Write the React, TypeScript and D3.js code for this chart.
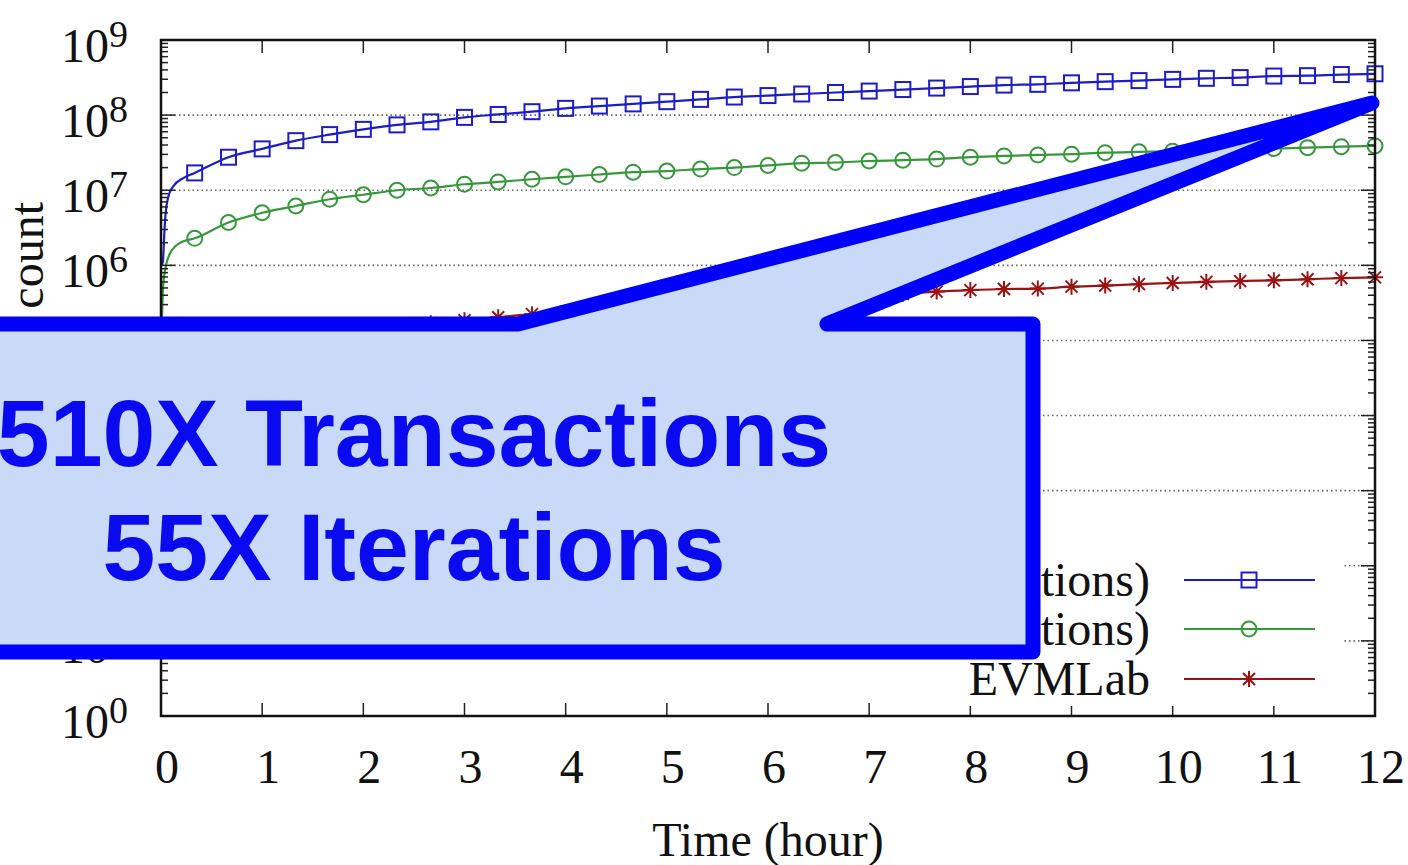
import React from "react";
import * as d3 from "d3";

// Sampling times (hours) of the plotted markers
const times = [
  0.333, 0.667, 1, 1.333, 1.667, 2, 2.333, 2.667, 3, 3.333, 3.667, 4,
  4.333, 4.667, 5, 5.333, 5.667, 6, 6.333, 6.667, 7, 7.333, 7.667, 8,
  8.333, 8.667, 9, 9.333, 9.667, 10, 10.333, 10.667, 11, 11.333, 11.667, 12,
];

// Start-up segment (line only, no markers)
const txStartTimes = [0.01, 0.02, 0.033, 0.046, 0.072, 0.12, 0.22];
const txStartValues = [1.0e6, 1.17e6, 2.7e6, 5.0e6, 8.1e6, 1.12e7, 1.45e7];
const itStartTimes = [0.005, 0.02, 0.046, 0.09, 0.19];
const itStartValues = [1.0e5, 5.0e5, 9.5e5, 1.45e6, 2.0e6];
const evmStartTimes = [0.005, 0.1, 0.2];
const evmStartValues = [2.0e3, 8.0e3, 1.4e4];

const transactions = [
  1.7e7, 2.75e7, 3.55e7, 4.57e7, 5.5e7, 6.46e7, 7.41e7, 8.13e7, 9.33e7, 1.02e8,
  1.11e8, 1.23e8, 1.32e8, 1.41e8, 1.51e8, 1.62e8, 1.74e8, 1.82e8, 1.91e8, 2.0e8,
  2.09e8, 2.19e8, 2.29e8, 2.4e8, 2.51e8, 2.57e8, 2.69e8, 2.79e8, 2.88e8, 2.99e8,
  3.09e8, 3.16e8, 3.31e8, 3.35e8, 3.47e8, 3.55e8,
];
const iterations = [
  2.29e6, 3.72e6, 5.01e6, 6.17e6, 7.59e6, 8.71e6, 1.0e7, 1.07e7, 1.2e7, 1.29e7,
  1.4e7, 1.51e7, 1.62e7, 1.74e7, 1.8e7, 1.91e7, 2.0e7, 2.14e7, 2.29e7, 2.34e7,
  2.45e7, 2.51e7, 2.6e7, 2.75e7, 2.86e7, 2.95e7, 3.02e7, 3.16e7, 3.24e7, 3.31e7,
  3.39e7, 3.51e7, 3.59e7, 3.69e7, 3.8e7, 3.89e7,
];
const evmlab = [
  2.0e4, 4.0e4, 6.3e4, 8.9e4, 1.12e5, 1.32e5, 1.51e5, 1.7e5, 1.86e5, 2.04e5,
  2.24e5, 2.4e5, 2.57e5, 2.69e5, 2.88e5, 3.02e5, 3.16e5, 3.39e5, 3.55e5, 3.72e5,
  3.98e5, 4.17e5, 4.47e5, 4.68e5, 4.84e5, 4.9e5, 5.2e5, 5.37e5, 5.62e5, 5.82e5,
  6.03e5, 6.17e5, 6.31e5, 6.53e5, 6.76e5, 6.92e5,
];

const xTicks = [0, 1, 2, 3, 4, 5, 6, 7, 8, 9, 10, 11, 12];
const yExponents = [0, 1, 2, 3, 4, 5, 6, 7, 8, 9];

const seriesNames = ["(transactions)", "(iterations)", "EVMLab"];
const seriesColors = ["#1c1cc8", "#36983a", "#9a1212"];
const calloutLines = ["510X Transactions", "55X Iterations"];

const W = 1408;
const H = 865;
const plot = { left: 161, right: 1375, top: 40, bottom: 716 };
const serif = "'Liberation Serif', 'Times New Roman', serif";

type Pt = [number, number];

function Marker({ kind, x, y, color }: { kind: number; x: number; y: number; color: string }) {
  if (kind === 0) {
    const s = 7.5;
    return <rect x={x - s} y={y - s} width={2 * s} height={2 * s} fill="none" stroke={color} strokeWidth={2} />;
  }
  if (kind === 1) return <circle cx={x} cy={y} r={7.5} fill="none" stroke={color} strokeWidth={2} />;
  const s = 8;
  const d = s * 0.75;
  return (
    <path
      d={`M${x - s},${y}H${x + s}M${x},${y - s}V${y + s}M${x - d},${y - d}L${x + d},${y + d}M${x - d},${y + d}L${x + d},${y - d}`}
      stroke={color}
      strokeWidth={2}
      fill="none"
    />
  );
}

export default function App() {
  const x = d3.scaleLinear().domain([0, 12]).range([plot.left, plot.right]);
  const y = d3.scaleLog().domain([1, 1e9]).range([plot.bottom, plot.top]);
  const line = d3
    .line<Pt>()
    .x((d) => x(d[0]))
    .y((d) => y(d[1]))
    .curve(d3.curveMonotoneX);

  const series = [
    { start: [txStartTimes, txStartValues], vals: transactions },
    { start: [itStartTimes, itStartValues], vals: iterations },
    { start: [evmStartTimes, evmStartValues], vals: evmlab },
  ].map((s) => {
    const pts: Pt[] = [
      ...(s.start[0] as number[]).map((t, i) => [t, (s.start[1] as number[])[i]] as Pt),
      ...times.map((t, i) => [t, s.vals[i]] as Pt),
    ];
    return { pts, marks: times.map((t, i) => [t, s.vals[i]] as Pt) };
  });

  const minorTicks: number[] = [];
  for (let e = 0; e < 9; e++) for (let m = 2; m <= 9; m++) minorTicks.push(m * Math.pow(10, e));

  const legendRows = [580, 629, 679];

  const calloutPath = [
    "M-40,324",
    "L518,324",
    "L1372,103",
    "L827,324",
    "L1033,324",
    "L1033,652",
    "L-40,652",
    "Z",
  ].join(" ");

  return (
    <svg
      width={W}
      height={H}
      viewBox={`0 0 ${W} ${H}`}
      style={{ position: "absolute", left: 0, top: 0, background: "#fff" }}
    >
      <rect width={W} height={H} fill="#fff" />

      {/* horizontal dotted grid at each decade */}
      {yExponents.slice(1, -1).map((e) => (
        <line
          key={e}
          x1={plot.left}
          x2={plot.right}
          y1={y(Math.pow(10, e))}
          y2={y(Math.pow(10, e))}
          stroke="#666"
          strokeWidth={1.6}
          strokeDasharray="1.5,3"
        />
      ))}

      {/* series */}
      {series.map((s, i) => (
        <g key={i}>
          <path d={line(s.pts) || ""} fill="none" stroke={seriesColors[i]} strokeWidth={2.2} />
          {s.marks.map((p, j) => (
            <Marker key={j} kind={i} x={x(p[0])} y={y(p[1])} color={seriesColors[i]} />
          ))}
        </g>
      ))}

      {/* ticks */}
      <g stroke="#222" strokeWidth={1.5}>
        {xTicks.slice(1, -1).map((t) => (
          <g key={t}>
            <line x1={x(t)} x2={x(t)} y1={plot.bottom} y2={plot.bottom - 13} />
            <line x1={x(t)} x2={x(t)} y1={plot.top} y2={plot.top + 13} />
          </g>
        ))}
        {yExponents.map((e) => (
          <g key={e}>
            <line x1={plot.left} x2={plot.left + 14} y1={y(Math.pow(10, e))} y2={y(Math.pow(10, e))} />
            <line x1={plot.right} x2={plot.right - 14} y1={y(Math.pow(10, e))} y2={y(Math.pow(10, e))} />
          </g>
        ))}
        {minorTicks.map((v) => (
          <g key={v}>
            <line x1={plot.left} x2={plot.left + 7} y1={y(v)} y2={y(v)} />
            <line x1={plot.right} x2={plot.right - 7} y1={y(v)} y2={y(v)} />
          </g>
        ))}
      </g>

      {/* frame */}
      <rect
        x={plot.left}
        y={plot.top}
        width={plot.right - plot.left}
        height={plot.bottom - plot.top}
        fill="none"
        stroke="#111"
        strokeWidth={2.5}
      />

      {/* tick labels */}
      <g fontFamily={serif} fill="#111">
        {xTicks.map((t) => (
          <text key={t} x={x(t) + 6} y={783} fontSize={48} textAnchor="middle">
            {t}
          </text>
        ))}
        {yExponents.map((e) => (
          <text key={e} x={128} y={y(Math.pow(10, e)) + 22} fontSize={48} textAnchor="end">
            10
            <tspan dy={-15} fontSize={38}>
              {e}
            </tspan>
          </text>
        ))}
        <text x={(plot.left + plot.right) / 2} y={856} fontSize={48} textAnchor="middle">
          Time (hour)
        </text>
        <text x={43} y={202} fontSize={48} textAnchor="end" transform="rotate(-90 43 202)">
          count
        </text>
      </g>

      {/* legend */}
      <rect x={955} y={550} width={388} height={156} fill="#fff" />
      {seriesNames.map((name, i) => (
        <g key={name}>
          <text
            x={1150}
            y={legendRows[i] + 16}
            fontFamily={serif}
            fontSize={48}
            textAnchor="end"
            fill="#111"
          >
            {name}
          </text>
          <line x1={1184} x2={1315} y1={legendRows[i]} y2={legendRows[i]} stroke={seriesColors[i]} strokeWidth={2} />
          <Marker kind={i} x={1249} y={legendRows[i]} color={seriesColors[i]} />
        </g>
      ))}

      {/* callout */}
      <path d={calloutPath} fill="#c9daf8" stroke="#0000ff" strokeWidth={15} strokeLinejoin="round" />
      {calloutLines.map((t, i) => (
        <text
          key={t}
          x={414}
          y={466 + i * 114}
          fontFamily="'Liberation Sans', Arial, sans-serif"
          fontWeight="bold"
          fontSize={95}
          textAnchor="middle"
          fill="#0a0af0"
        >
          {t}
        </text>
      ))}
    </svg>
  );
}
